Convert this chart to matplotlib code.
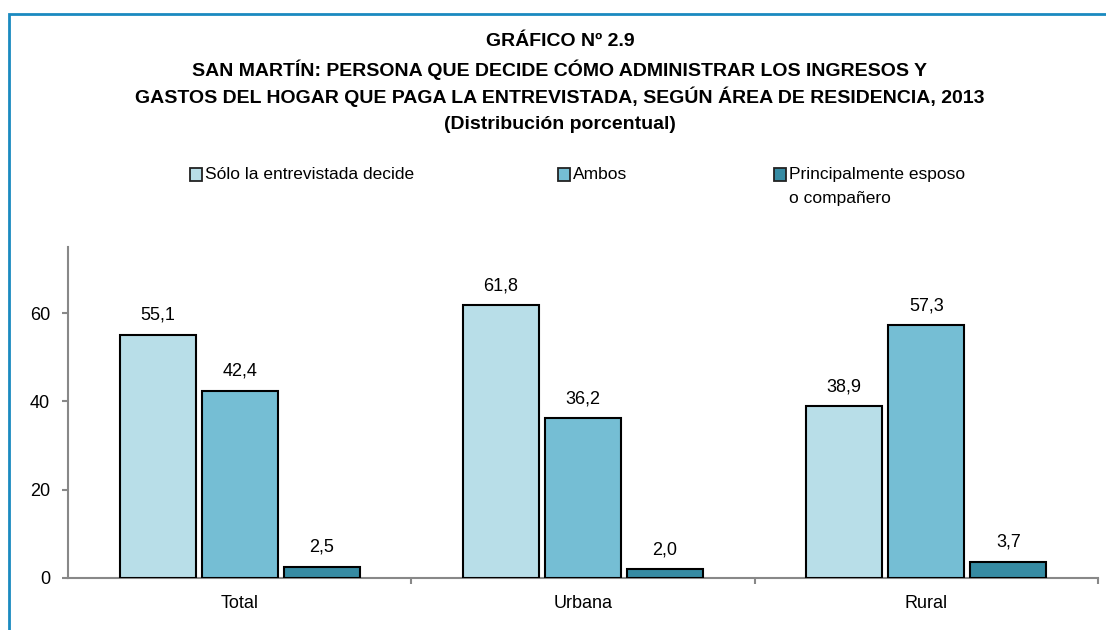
import numpy as np
import matplotlib
matplotlib.use('Agg')
import matplotlib.pyplot as plt
from matplotlib.patches import Rectangle

plt.rcParams['font.family'] = ['Liberation Sans', 'DejaVu Sans']

categorias = ['Total', 'Urbana', 'Rural']
series = ['Sólo la entrevistada decide', 'Ambos', 'Principalmente esposo\no compañero']
sola = [55.1, 61.8, 38.9]
ambos = [42.4, 36.2, 57.3]
esposo = [2.5, 2.0, 3.7]
colores = ['#B8DEE8', '#75BED4', '#368BA3']

W, H = 1106, 630
fig = plt.figure(figsize=(W / 100, H / 100), dpi=100)
ax = fig.add_axes([68 / W, 1 - 578 / H, (1098 - 68) / W, (578 - 247) / H])

x = np.arange(len(categorias))
ancho = 0.221
paso = 0.239
for i, vals in enumerate([sola, ambos, esposo]):
    barras = ax.bar(x + (i - 1) * paso, vals, width=ancho, color=colores[i],
                    edgecolor='black', linewidth=1.5, zorder=3)
    for b, v in zip(barras, vals):
        ax.annotate(f'{v:.1f}'.replace('.', ','), (b.get_x() + b.get_width() / 2, v),
                    xytext=(0, 8), textcoords='offset points', ha='center', va='bottom',
                    fontsize=13)

ax.set_xlim(-0.5, 2.5)
ax.set_ylim(0, 75)
ax.set_yticks([0, 20, 40, 60])
ax.set_xticks(x)
ax.set_xticklabels(categorias)
ax.set_xticks([0.5, 1.5, 2.5], minor=True)
ax.tick_params(axis='x', which='major', length=0, pad=12, labelsize=13)
ax.tick_params(axis='x', which='minor', length=4.5, width=1.5, color='#888888')
ax.tick_params(axis='y', length=4.5, width=1.5, color='#888888', labelsize=13, pad=8.5)
for s in ['top', 'right']:
    ax.spines[s].set_visible(False)
for s in ['left', 'bottom']:
    ax.spines[s].set_color('#888888')
    ax.spines[s].set_linewidth(1.5)

# titulo
titulos = ['GRÁFICO Nº 2.9',
           'SAN MARTÍN: PERSONA QUE DECIDE CÓMO ADMINISTRAR LOS INGRESOS Y',
           'GASTOS DEL HOGAR QUE PAGA LA ENTREVISTADA, SEGÚN ÁREA DE RESIDENCIA, 2013',
           '(Distribución porcentual)']
for k, t in enumerate(titulos):
    fig.text(560 / W, 1 - (42 + 27.5 * k) / H, t, ha='center', va='center',
             fontsize=14, fontweight='bold')

# leyenda
pos_ley = [190, 558, 774]
for px, lab, c in zip(pos_ley, series, colores):
    fig.patches.append(Rectangle((px / W, 1 - 181 / H), 12 / W, 13 / H, transform=fig.transFigure,
                                 facecolor=c, edgecolor='#222222', linewidth=1.3))
    fig.text((px + 15) / W, 1 - 174.5 / H, lab.split('\n')[0], ha='left', va='center',
             fontsize=12.5)
    if '\n' in lab:
        fig.text((px + 15) / W, 1 - 199 / H, lab.split('\n')[1], ha='left', va='center',
                 fontsize=12.5)

# marco
fig.patches.append(Rectangle((9 / W, -0.1), 1.2, 1 - 14 / H + 0.1, transform=fig.transFigure,
                             fill=False, edgecolor='#1A8AC0', linewidth=2))

fig.savefig('out.png', dpi=100)
